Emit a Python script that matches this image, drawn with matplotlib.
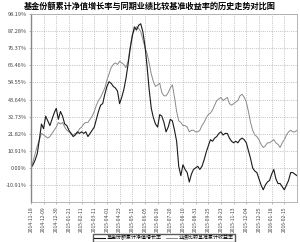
import matplotlib.pyplot as plt
import numpy as np

plt.rcParams['font.family'] = ['Noto Sans CJK SC', 'DejaVu Sans']

# 基金份额累计净值增长率 (%)
fund = [0, 2, 5, 9, 18, 28, 25, 33, 30, 27, 31, 35, 38, 31, 36, 33, 28, 27, 24, 22,
        20, 21, 23, 22, 23, 22, 23, 20, 22, 24, 26, 31, 36, 40, 41, 47, 52, 55, 54, 52,
        51, 49, 41, 45, 50, 57, 66, 76, 84, 90, 88, 91, 92, 87, 78, 65, 50, 38, 32, 28,
        26, 34, 33, 29, 23, 26, 31, 30, 24, 17, 1, -5, 2, -1, -3, -9, -4, -1, 0, 1,
        -1, 1, 5, 10, 14, 18, 17, 19, 20, 22, 23, 21, 22, 22, 19, 17, 16, 17, 16, 18,
        19, 18, 16, 11, 6, 0, -2, -3, -7, -11, -14, -11, -9, -8, -4, -1, -7, -10, -10, -12,
        -14, -11, -8, -3, -3, -4, -5]

# 业绩比较基准累计收益率 (%)
bench = [0, 4, 9, 14, 18, 22, 21, 20, 19, 20, 22, 24, 26, 29, 28, 29, 26, 24, 23, 22,
         21, 22, 22, 25, 26, 28, 29, 29, 31, 33, 36, 40, 43, 45, 48, 51, 56, 60, 64, 66,
         67, 66, 68, 67, 66, 64, 68, 77, 85, 88, 90, 89, 87, 82, 77, 73, 67, 60, 55, 52,
         53, 54, 48, 46, 46, 48, 51, 53, 45, 36, 30, 29, 27, 27, 26, 23, 24, 24, 23, 23,
         24, 27, 29, 32, 34, 35, 37, 40, 43, 44, 45, 43, 44, 45, 41, 40, 41, 42, 43, 46,
         47, 45, 42, 36, 29, 24, 21, 20, 18, 15, 13, 14, 16, 16, 17, 18, 16, 15, 13, 16,
         18, 21, 23, 24, 23, 23, 24]

date_labels = ["2014-11-18", "2014-12-09", "2014-12-30", "2015-01-21", "2015-02-11",
               "2015-03-11", "2015-04-01", "2015-04-23", "2015-05-15", "2015-06-05",
               "2015-06-29", "2015-07-20", "2015-08-10", "2015-08-31", "2015-09-25",
               "2015-10-23", "2015-11-13", "2015-12-04", "2015-12-25", "2016-01-18",
               "2016-02-15"]

y_ticks = [-10.91, 0.00, 10.91, 21.82, 32.73, 43.64, 54.55, 65.46, 76.37, 87.28, 98.19]

x = np.arange(len(fund))

fig = plt.figure(figsize=(3.0, 2.42), dpi=100)
ax = fig.add_axes([0.103, 0.165, 0.887, 0.777])

ax.plot(x, bench, color='#8a8a8a', lw=0.7, label='业绩比较基准累计收益率')
ax.plot(x, fund, color='#1a1a1a', lw=0.8, label='基金份额累计净值增长率')

ax.set_xlim(0, 126)
ax.set_ylim(-21.82, 98.19)
ax.set_yticks(y_ticks)
ax.set_yticklabels(['%.2f%%' % v for v in y_ticks], fontsize=4.0, color='#444444')
ax.set_xticks(np.arange(0, 121, 6))
ax.set_xticklabels(date_labels, rotation=90, fontsize=3.6, color='#444444')
ax.tick_params(length=1.5, width=0.4, pad=1.5, colors='#888888', labelcolor='#444444')

ax.grid(True, color='#999999', ls=':', lw=0.5)
for s in ax.spines.values():
    s.set_color('#aaaaaa')
    s.set_linewidth(0.6)
ax.spines['left'].set_linewidth(1.0)
ax.spines['left'].set_color('#888888')

fig.text(0.5, 0.972, '基金份额累计净值增长率与同期业绩比较基准收益率的历史走势对比图',
         fontsize=5.9, fontweight='bold', ha='center', va='center')

handles, labels = ax.get_legend_handles_labels()
ax.legend(handles[::-1], labels[::-1], loc='upper center', bbox_to_anchor=(0.5, -0.155),
          ncol=2, fontsize=3.6, frameon=True, fancybox=False, edgecolor='#333333',
          handlelength=2.2, borderpad=0.25, columnspacing=0.8, handletextpad=0.4)

fig.savefig('out.png', dpi=100)
